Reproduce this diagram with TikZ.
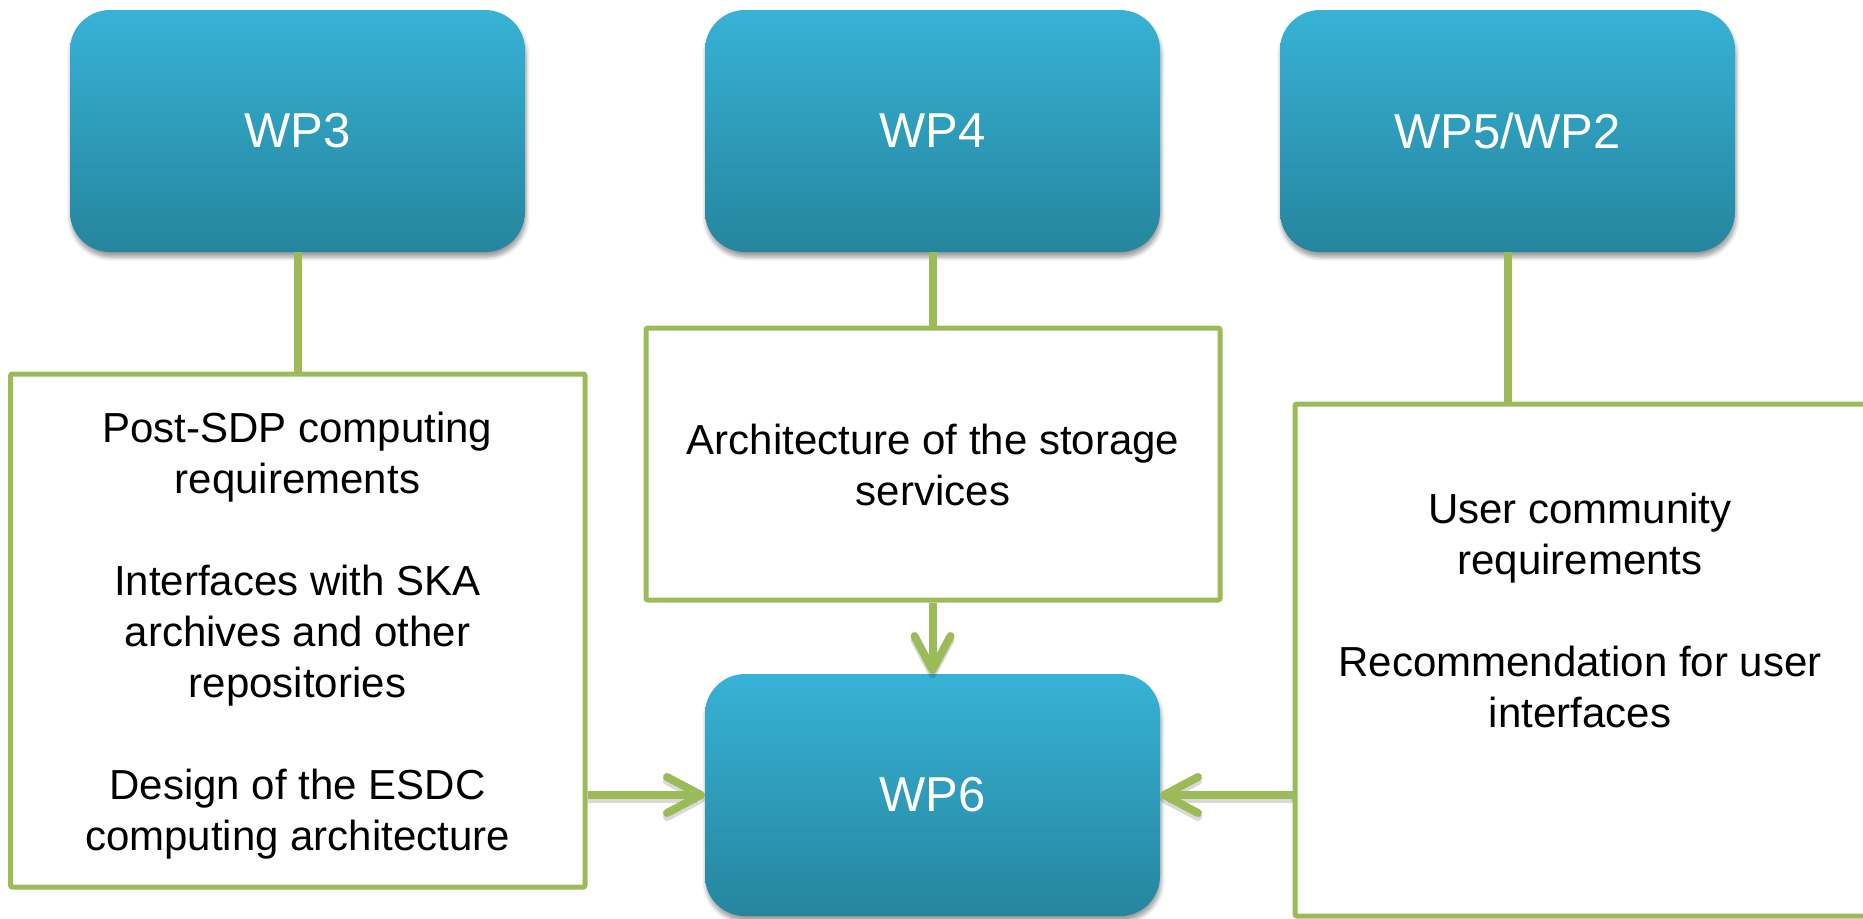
\documentclass[tikz,border=0pt]{standalone}
\usepackage{fontspec}
\setmainfont{Liberation Sans}
\usetikzlibrary{arrows.meta,shadows.blur}
\definecolor{wpTop}{HTML}{37B2D6}
\definecolor{wpBot}{HTML}{25859D}
\definecolor{grn}{HTML}{9BBB59}
\begin{document}
\begin{tikzpicture}[x=0.5pt,y=-0.5pt,
  wpbox/.style={rectangle, rounded corners=20pt, minimum width=227.5pt, minimum height=121pt,
    top color=wpTop, bottom color=wpBot, draw=none, text=white,
    font=\fontsize{24.5}{29}\selectfont, outer sep=0pt, inner sep=0pt,
    blur shadow={shadow xshift=0.5pt, shadow yshift=-2.5pt, shadow opacity=40, shadow blur steps=6}},
  greenbox/.style={rectangle, draw=grn, line width=2.5pt, fill=white, rounded corners=1pt, inner sep=0pt},
  bodytext/.style={align=center, font=\fontsize{21}{25.5}\selectfont, text=black, inner sep=0pt},
  link/.style={draw=grn, line width=4pt},
  conn/.style={link, -{Straight Barb[length=17pt,width=18pt,round]},
    preaction={draw=black, draw opacity=0.15, line width=4pt, transform canvas={yshift=-2pt}}},
]
\useasboundingbox (0,0) rectangle (1863,918);

\node[greenbox, minimum width=287.25pt, minimum height=256.5pt] (lbox) at (297.75,630.5) {};
\node[greenbox, minimum width=287pt, minimum height=136pt] (mbox) at (933,464) {};
\node[greenbox, minimum width=287pt, minimum height=256pt] (rbox) at (1582,660) {};

\node[bodytext] (ltext) at (297.5,636) {Post-SDP computing\\requirements\\[25.5pt]Interfaces with SKA\\archives and other\\repositories\\[25.5pt]Design of the ESDC\\computing architecture};
\node[bodytext] (mtext) at (933,464.5) {Architecture of the storage\\services};
\node[bodytext] (rtext) at (1580,610.5) {User community\\requirements\\[25.5pt]Recommendation for user\\interfaces};

\node[wpbox] (wp3) at (297.5,131) {WP3};
\node[wpbox] (wp4) at (932.5,131) {WP4};
\node[wpbox] (wp5) at (1507.5,131) {WP5/WP2};
\node[wpbox] (wp6) at (932.5,795) {WP6};

\draw[link] (wp3.south) -- (wp3.south |- lbox.north);
\draw[link] (wp4.south) -- (wp4.south |- mbox.north);
\draw[link] (wp5.south) -- (wp5.south |- rbox.north);

\draw[conn] (mbox.south -| wp6.north) -- (wp6.north);
\draw[conn] (lbox.east |- wp6.west) -- (wp6.west);
\draw[conn] (rbox.west |- wp6.east) -- (wp6.east);
\end{tikzpicture}
\end{document}
